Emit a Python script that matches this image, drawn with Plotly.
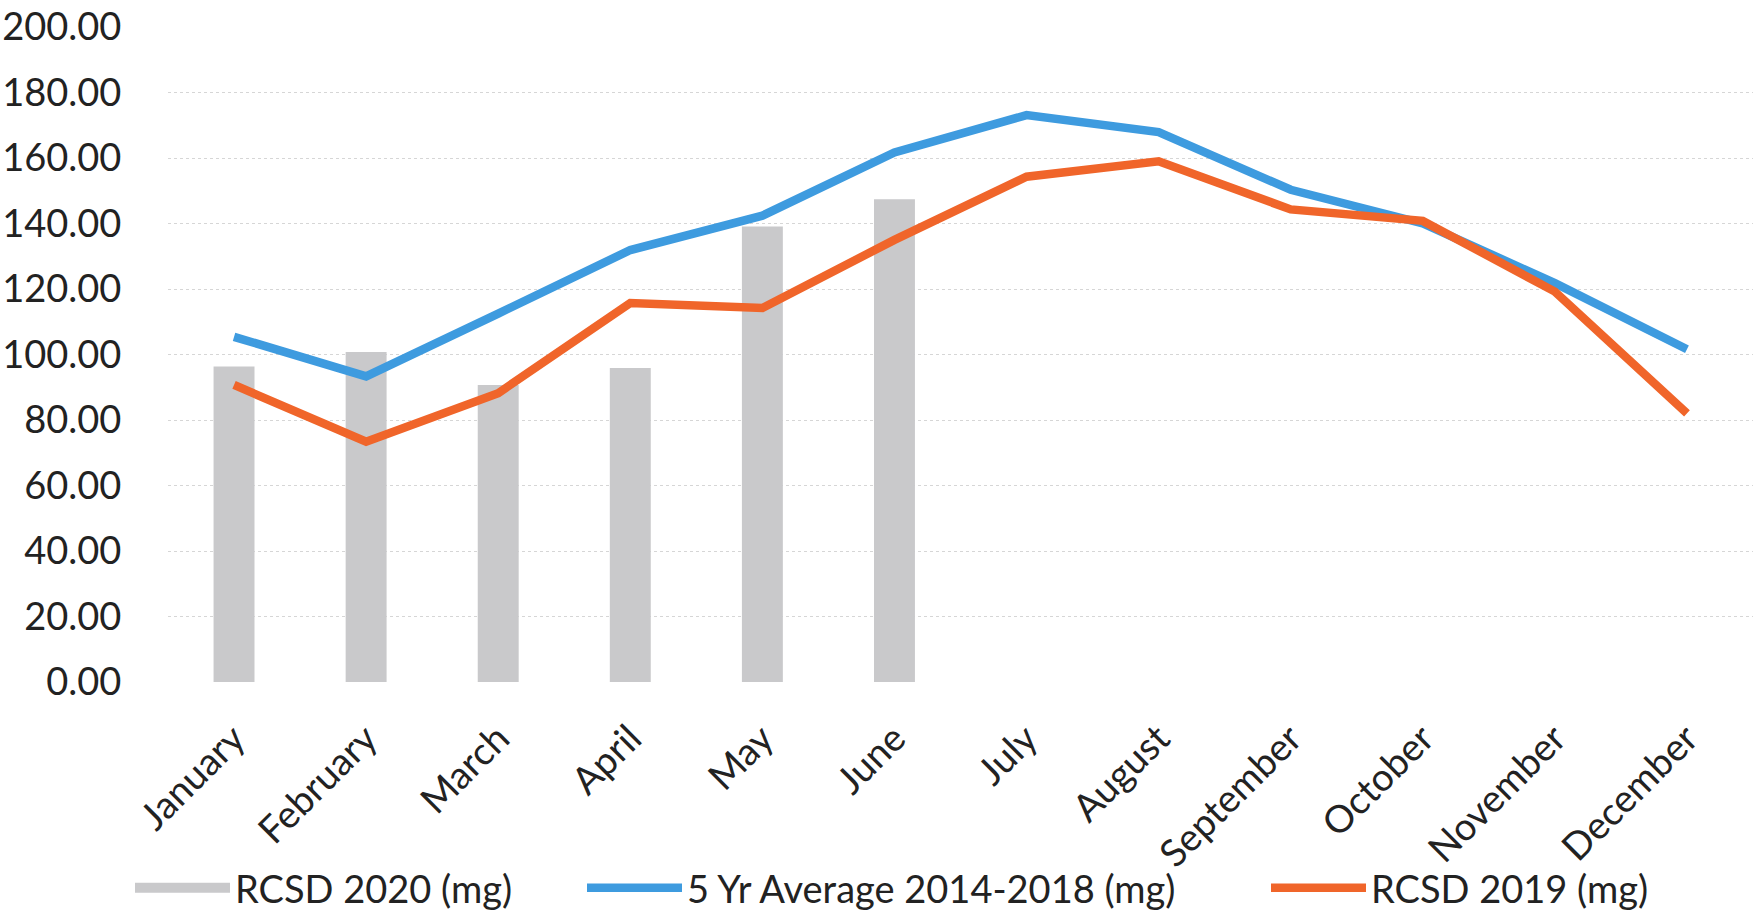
import plotly.graph_objects as go

months = ["January", "February", "March", "April", "May", "June", "July",
          "August", "September", "October", "November", "December"]
rcsd_2020 = [96.3, 100.8, 90.7, 95.9, 139.1, 147.4]
avg_5yr = [105.4, 93.3, 112.5, 131.9, 142.4, 161.7, 173.1, 167.9, 150.3, 140.0, 121.8, 101.6]
rcsd_2019 = [90.7, 73.4, 88.2, 115.7, 114.2, 135.0, 154.3, 159.0, 144.3, 140.8, 119.2, 82.0]
y_ticks = [0, 20, 40, 60, 80, 100, 120, 140, 160, 180, 200]

FONT = "Lato"
GRAY = "#C9C9CB"
BLUE = "#3E9BDF"
ORANGE = "#F0652A"

fig = go.Figure()
fig.add_trace(go.Bar(x=months[:len(rcsd_2020)], y=rcsd_2020, name="RCSD 2020 (mg)",
                     marker=dict(color=GRAY, line=dict(width=0)),
                     showlegend=False, legendgroup="a"))
# legend entry for the bars (thick swatch)
fig.add_trace(go.Scatter(x=[None], y=[None], mode="lines", name="RCSD 2020 (mg)",
                         line=dict(color=GRAY, width=28), legend="legend",
                         legendgroup="a"))
fig.add_trace(go.Scatter(x=months, y=avg_5yr, mode="lines", name="5 Yr Average 2014-2018 (mg)",
                         line=dict(color=BLUE, width=8.5), legend="legend2"))
fig.add_trace(go.Scatter(x=months, y=rcsd_2019, mode="lines", name="RCSD 2019 (mg)",
                         line=dict(color=ORANGE, width=8.5), legend="legend3"))

W, H = 1764, 911
L, R, T, B = 168, 11, 27, 229
pw = W - L - R
ph = H - T - B

def px(x):
    return (x - L) / pw

def py(y):
    return (H - B - y) / ph

legend_common = dict(orientation="h", yanchor="middle", xanchor="left",
                     font=dict(family=FONT, size=38, color="#222222"),
                     bgcolor="rgba(0,0,0,0)", itemwidth=95, tracegroupgap=0)

fig.update_layout(
    width=W, height=H,
    margin=dict(l=L, r=R, t=T, b=B, autoexpand=False),
    plot_bgcolor="white", paper_bgcolor="white",
    bargap=0.69,
    font=dict(family=FONT, size=37, color="#222222"),
    legend=dict(x=px(130), y=py(888), **legend_common),
    legend2=dict(x=px(582), y=py(888), **legend_common),
    legend3=dict(x=px(1266), y=py(888), **legend_common),
)
fig.update_yaxes(range=[0, 200], tickvals=y_ticks, automargin=False,
                 ticktext=[f"{v:.2f}" for v in y_ticks],
                 showgrid=True, gridcolor="#D6D6D6", griddash="dot", gridwidth=1,
                 zeroline=False, showline=False,
                 ticks="outside", ticklen=38, tickcolor="rgba(0,0,0,0)",
                 tickfont=dict(family=FONT, size=38, color="#222222"))
fig.update_xaxes(type="category", categoryorder="array", categoryarray=months,
                 range=[-0.5, 11.5], tickangle=-45, showgrid=False, showline=False,
                 zeroline=False, ticks="outside", ticklen=18, automargin=False,
                 tickcolor="rgba(0,0,0,0)",
                 tickfont=dict(family=FONT, size=38, color="#222222"))

fig.write_html("out.html", config={"displayModeBar": False},
               post_script="document.body.style.margin='0';document.body.style.overflow='hidden';")
